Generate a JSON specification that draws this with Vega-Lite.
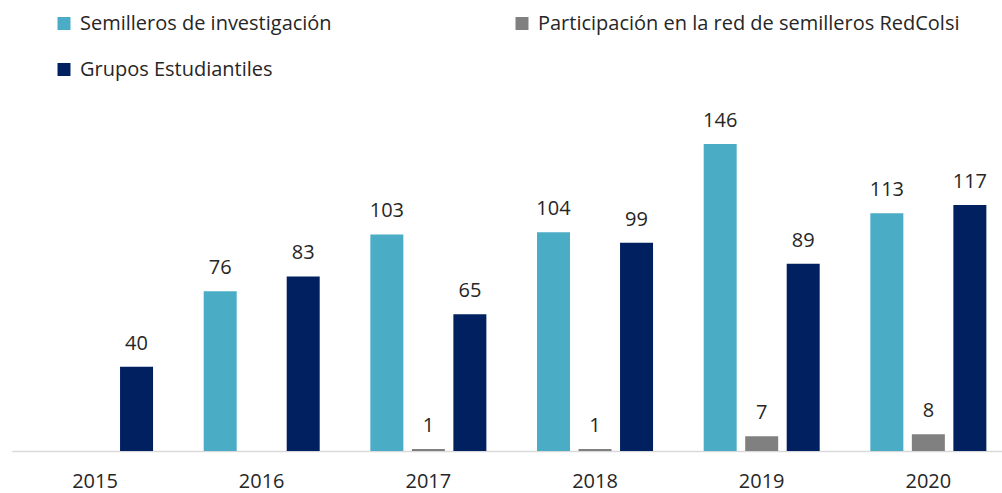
{
  "$schema": "https://vega.github.io/schema/vega-lite/v6.json",
  "width": 1000,
  "height": 336.5,
  "autosize": "none",
  "padding": {"left": 11.7, "top": 114.5, "right": 0, "bottom": 42},
  "background": "white",
  "config": {
    "view": {"stroke": null},
    "font": "Open Sans"
  },
  "data": {
    "values": [
      {"year": "2015", "series": "Grupos Estudiantiles", "value": 40},
      {"year": "2016", "series": "Semilleros de investigación", "value": 76},
      {"year": "2016", "series": "Grupos Estudiantiles", "value": 83},
      {"year": "2017", "series": "Semilleros de investigación", "value": 103},
      {"year": "2017", "series": "Participación en la red de semilleros RedColsi", "value": 1},
      {"year": "2017", "series": "Grupos Estudiantiles", "value": 65},
      {"year": "2018", "series": "Semilleros de investigación", "value": 104},
      {"year": "2018", "series": "Participación en la red de semilleros RedColsi", "value": 1},
      {"year": "2018", "series": "Grupos Estudiantiles", "value": 99},
      {"year": "2019", "series": "Semilleros de investigación", "value": 146},
      {"year": "2019", "series": "Participación en la red de semilleros RedColsi", "value": 7},
      {"year": "2019", "series": "Grupos Estudiantiles", "value": 89},
      {"year": "2020", "series": "Semilleros de investigación", "value": 113},
      {"year": "2020", "series": "Participación en la red de semilleros RedColsi", "value": 8},
      {"year": "2020", "series": "Grupos Estudiantiles", "value": 117}
    ]
  },
  "encoding": {
    "x": {
      "field": "year",
      "type": "nominal",
      "scale": {"paddingInner": 0, "paddingOuter": 0},
      "axis": {
        "title": null,
        "labelAngle": 0,
        "ticks": false,
        "domainColor": "#d9d9d9",
        "domainWidth": 1.5,
        "labelFontSize": 20,
        "labelColor": "#262626",
        "labelPadding": 21,
        "grid": false
      }
    },
    "xOffset": {
      "field": "series",
      "type": "nominal",
      "scale": {
        "domain": ["Semilleros de investigación", "Participación en la red de semilleros RedColsi", "Grupos Estudiantiles"],
        "paddingInner": 0.205,
        "paddingOuter": 0.61
      }
    },
    "y": {
      "field": "value",
      "type": "quantitative",
      "scale": {"domain": [0, 160], "nice": false},
      "axis": null
    }
  },
  "layer": [
    {
      "mark": {"type": "bar"},
      "encoding": {
        "color": {
          "field": "series",
          "type": "nominal",
          "scale": {
            "domain": ["Semilleros de investigación", "Grupos Estudiantiles", "Participación en la red de semilleros RedColsi"],
            "range": ["#4BACC6", "#002060", "#808080"]
          },
          "legend": {
            "title": null,
            "orient": "none",
            "legendX": 42.3,
            "legendY": -101,
            "columns": 2,
            "columnPadding": 180,
            "rowPadding": 26,
            "symbolType": "square",
            "symbolSize": 169,
            "symbolStrokeWidth": 0,
            "symbolOpacity": 1,
            "labelFontSize": 20,
            "labelColor": "#262626",
            "labelLimit": 0,
            "labelOffset": 6
          }
        }
      }
    },
    {
      "mark": {"type": "text", "baseline": "alphabetic", "dy": -17, "fontSize": 20, "color": "#262626"},
      "encoding": {
        "text": {"field": "value", "type": "quantitative"}
      }
    }
  ]
}
